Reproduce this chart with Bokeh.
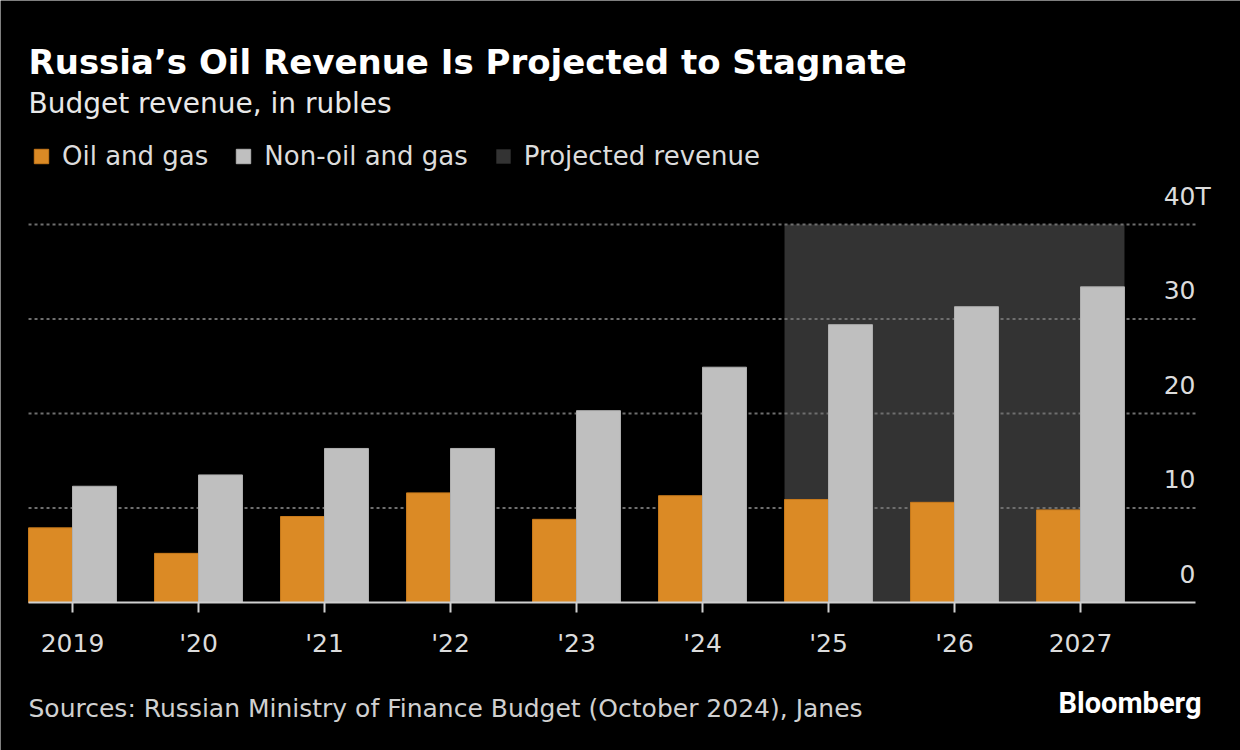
from bokeh.plotting import figure
from bokeh.models import (ColumnDataSource, Range1d, FixedTicker, LabelSet,
                          Legend, LegendItem)
from bokeh.transform import dodge
from bokeh.core.properties import value
from bokeh.embed import file_html
from bokeh.resources import INLINE

# ---------------- data ----------------
years = [2019, 2020, 2021, 2022, 2023, 2024, 2025, 2026, 2027]
year_labels = ["2019", "'20", "'21", "'22", "'23", "'24", "'25", "'26", "2027"]
oil_gas = [7.9, 5.2, 9.1, 11.6, 8.8, 11.3, 10.9, 10.6, 9.8]
non_oil_gas = [12.3, 13.5, 16.3, 16.3, 20.3, 24.9, 29.4, 31.3, 33.4]
projected_years = [2025, 2026, 2027]
projected_top = 40
y_ticks = [0, 10, 20, 30, 40]
y_tick_labels = ["0", "10", "20", "30", "40"]
y_unit = "T"

title = "Russia\u2019s Oil Revenue Is Projected to Stagnate"
subtitle = "Budget revenue, in rubles"
source_note = "Sources: Russian Ministry of Finance Budget (October 2024), Janes"
brand = "Bloomberg"
series_names = ["Oil and gas", "Non-oil and gas", "Projected revenue"]

# ---------------- style ----------------
FONT = "DejaVu Sans"
ORANGE = "#db8a25"
GREY = "#bfbfbf"
SHADE = "#333333"
BG = "#000000"
TXT = "#dcdcdc"
BAR_W = 0.349

W, H = 1240, 750


# page-pixel -> data helpers for layout placement
def px2x(px):
    return years[0] + (px - 72.0) / 126.0


def py2y(py):
    return (602.0 - py) / 9.45


PLOT_L = years[0] - BAR_W
PLOT_R = px2x(1195)

p = figure(width=W, height=H, output_backend="svg", toolbar_location=None,
           x_range=Range1d(px2x(0), px2x(W)), y_range=Range1d(py2y(H), py2y(0)),
           y_axis_location=None,
           min_border_left=0, min_border_right=0,
           min_border_top=0, min_border_bottom=0)
p.background_fill_color = BG
p.border_fill_color = BG
p.outline_line_color = None
p.xgrid.visible = False
p.ygrid.visible = False

src = ColumnDataSource(dict(year=years, oil=oil_gas, non=non_oil_gas))

r_shade = p.quad(left=[min(projected_years) - BAR_W], right=[max(projected_years) + BAR_W],
                 bottom=[0], top=[projected_top], fill_color=SHADE, line_color=None,
                 level="image")

# dotted grid lines across the plot area
gy = y_ticks[1:]
p.segment(x0=[PLOT_L] * len(gy), x1=[PLOT_R] * len(gy), y0=gy, y1=gy,
          line_color="#6e6e6e", line_width=2, line_dash="3 3", level="underlay")

r_oil = p.vbar(x=dodge("year", -BAR_W / 2, range=p.x_range), top="oil", width=BAR_W,
               source=src, fill_color=ORANGE, line_color="#c87a1c", line_width=1)
r_non = p.vbar(x=dodge("year", BAR_W / 2, range=p.x_range), top="non", width=BAR_W,
               source=src, fill_color=GREY, line_color="#b0b0b0", line_width=1)

# x axis fixed at zero
ax = p.xaxis[0]
ax.fixed_location = 0
ax.bounds = (PLOT_L, PLOT_R)
ax.ticker = FixedTicker(ticks=years)
ax.major_label_overrides = {y: l for y, l in zip(years, year_labels)}
ax.axis_line_color = "#d0d0d0"
ax.axis_line_width = 2
ax.major_tick_line_color = "#d0d0d0"
ax.major_tick_line_width = 2
ax.major_tick_out = 10
ax.major_tick_in = 0
ax.minor_tick_line_color = None
ax.major_label_text_color = TXT
ax.major_label_text_font = FONT
ax.major_label_text_font_size = "25px"
ax.major_label_standoff = 16

# y tick labels (above grid lines, right aligned) and unit suffix
ysrc = ColumnDataSource(dict(x=[PLOT_R] * len(y_ticks), y=y_ticks, text=y_tick_labels))
p.add_layout(LabelSet(x="x", y="y", text="text", source=ysrc, text_align="right",
                      text_baseline="alphabetic", y_offset=20, text_color=TXT,
                      text_font=value(FONT), text_font_size="25px"))
usrc = ColumnDataSource(dict(x=[PLOT_R], y=[y_ticks[-1]], text=[y_unit]))
p.add_layout(LabelSet(x="x", y="y", text="text", source=usrc, text_align="left",
                      text_baseline="alphabetic", y_offset=20, text_color=TXT,
                      text_font=value(FONT), text_font_size="25px"))

# titles and notes
p.text(x=[px2x(28)], y=[py2y(61)], text=[title], text_color="#ffffff",
       text_font=value(FONT), text_font_style="bold", text_font_size="34px",
       text_baseline="alphabetic")
p.text(x=[px2x(28)], y=[py2y(103)], text=[subtitle], text_color="#e8e8e8",
       text_font=value(FONT), text_font_size="28px", text_baseline="alphabetic")
p.text(x=[px2x(28)], y=[py2y(708)], text=[source_note], text_color="#d0d0d0",
       text_font=value(FONT), text_font_size="25px", text_baseline="alphabetic")
p.text(x=[px2x(1201)], y=[py2y(702)], text=[brand], text_color="#ffffff",
       text_font=value("Roboto"), text_font_style="bold", text_font_size="29px",
       text_align="right", text_baseline="alphabetic")

# legend
legend = Legend(items=[LegendItem(label=series_names[0], renderers=[r_oil]),
                       LegendItem(label=series_names[1], renderers=[r_non]),
                       LegendItem(label=series_names[2], renderers=[r_shade])],
                orientation="horizontal", location=(32, H - 171),
                background_fill_alpha=0, border_line_alpha=0,
                label_text_color=TXT, label_text_font=FONT,
                label_text_font_size="26px", glyph_width=18, glyph_height=18,
                label_standoff=12, spacing=26, padding=0, margin=0)
p.add_layout(legend, "center")

open("out.html", "w").write(file_html(p, INLINE))
